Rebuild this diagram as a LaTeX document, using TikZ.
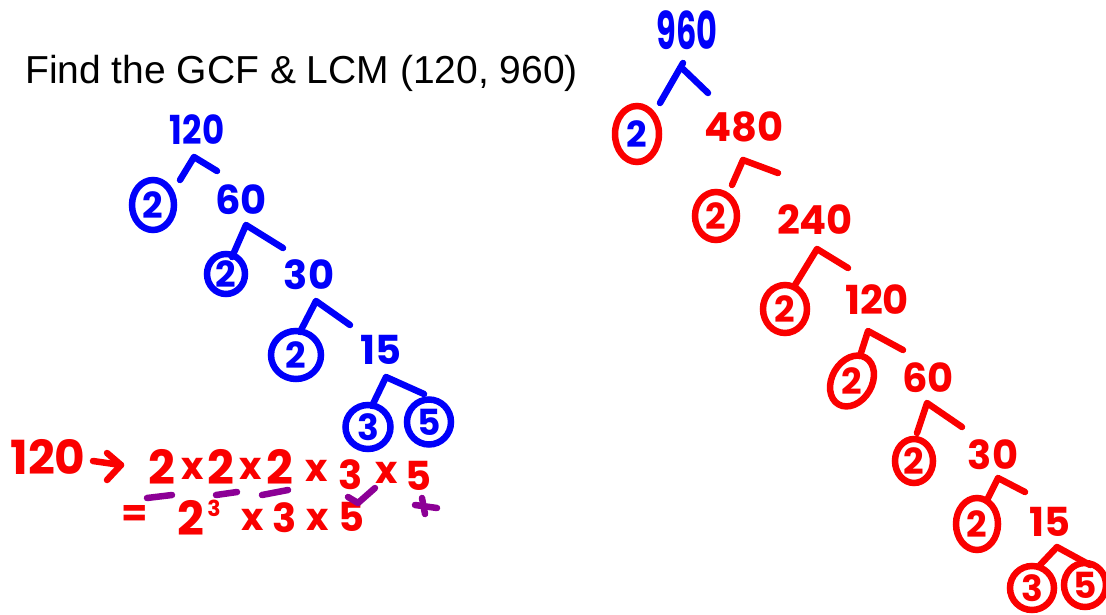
\documentclass[tikz,border=0pt]{standalone}
\usepackage{fontspec}
\setmainfont{Liberation Sans}
\newfontfamily\hand{Poppins}
\usetikzlibrary{shapes.geometric}
\definecolor{pblue}{RGB}{0,0,250}
\definecolor{pred}{RGB}{250,0,0}
\definecolor{ppurple}{RGB}{140,0,150}
\tikzset{
  num/.style={font=\hand\bfseries\fontsize{40}{40}\selectfont, inner sep=0pt},
  big/.style={font=\hand\bfseries\fontsize{47}{47}\selectfont, inner sep=0pt},
  sml/.style={font=\hand\bfseries\fontsize{38}{38}\selectfont, inner sep=0pt},
  ringtext/.style={font=\hand\bfseries\fontsize{36}{36}\selectfont, inner sep=0pt},
  ring/.style={ellipse, draw, line width=6.5pt, inner sep=0pt, font=\hand\bfseries\fontsize{36}{36}\selectfont},
  br/.style={line width=6.5pt, line cap=round, line join=round},
  pstroke/.style={line width=6.5pt, line cap=round, line join=round, ppurple},
}
\begin{document}
\begin{tikzpicture}[x=1pt,y=-1pt]
\useasboundingbox (0,0) rectangle (1106,615);
\fill[white] (0,0) rectangle (1106,615);

% title
\node[anchor=base west, inner sep=0pt, font=\fontsize{39}{39}\selectfont] (title) at (25,84) {Find the GCF \& LCM (120, 960)};

% ---------------- left tree (blue) ----------------
\begin{scope}[pblue]
\node[num, xscale=0.85] (l120) at (197,130) {120};
\coordinate (l1l) at (180,180); \coordinate (l1a) at (194,157); \coordinate (l1r) at (217,171);
\draw[br] (l1l) -- (l1a) -- (l1r);
\node[ring, minimum width=42, minimum height=50] (l2a) at (153,205) {2};
\node[num] (l60) at (241,200) {60};
\coordinate (l2l) at (232,257); \coordinate (l2a') at (246,225); \coordinate (l2r) at (283,248);
\draw[br] (l2l) -- (l2a') -- (l2r);
\node[ring, minimum width=38, minimum height=40] (l2b) at (226,274) {2};
\node[num] (l30) at (309,275) {30};
\coordinate (l3l) at (300,332); \coordinate (l3a) at (316,301); \coordinate (l3r) at (350,325);
\draw[br] (l3l) -- (l3a) -- (l3r);
\node[ring, minimum width=50, minimum height=48] (l2c) at (296,355) {2};
\node[num] (l15) at (381,350) {15};
\coordinate (l4l) at (372,406); \coordinate (l4a) at (386,377); \coordinate (l4r) at (424,394);
\draw[br] (l4l) -- (l4a) -- (l4r);
\node[ring, minimum width=45, minimum height=44] (l3) at (368,427) {3};
\node[ring, minimum width=44, minimum height=45] (l5) at (429,422) {5};
\end{scope}

% ---------------- bottom working (red) ----------------
\begin{scope}[pred]
\node[big] (r120) at (48,457) {120};
\coordinate (arA) at (93,461); \coordinate (arB) at (121,465);
\coordinate (arC) at (107,453); \coordinate (arD) at (107,480);
\draw[br] (arA) -- (arB);
\draw[br] (arC) -- (arB) -- (arD);
\node[big] (e1) at (162,467) {2};
\node[sml] (x1) at (193,469) {x};
\node[big] (e2) at (221,467) {2};
\node[sml] (x2) at (251,469) {x};
\node[big] (e3) at (280,467) {2};
\node[sml] (x3) at (317,471) {x};
\node[num] (e4) at (351,475) {3};
\node[sml] (x4) at (387,473) {x};
\node[num] (e5) at (418,476) {5};

\node[sml] (eq) at (135,516) {=};
\node[big] (f1) at (191,518) {2};
\node[font=\hand\bfseries\fontsize{22}{22}\selectfont, inner sep=0pt] (f1s) at (214,508) {3};
\node[sml] (y1) at (253,520) {x};
\node[num] (f2) at (285,518) {3};
\node[sml] (y2) at (318,520) {x};
\node[num] (f3) at (351,517) {5};
\end{scope}

% purple marks
\coordinate (u1a) at (147,498); \coordinate (u1b) at (172,495);
\coordinate (u2a) at (216,495); \coordinate (u2b) at (237,492);
\coordinate (u3a) at (262,495); \coordinate (u3b) at (288,490);
\draw[pstroke] (u1a) -- (u1b);
\draw[pstroke] (u2a) -- (u2b);
\draw[pstroke] (u3a) -- (u3b);
\coordinate (ck1) at (348,497); \coordinate (ck2) at (358,503); \coordinate (ck3) at (375,488);
\draw[pstroke] (ck1) -- (ck2) -- (ck3);
\coordinate (st1) at (415,505); \coordinate (st2) at (437,508);
\coordinate (st3) at (422,498); \coordinate (st4) at (425,514);
\draw[pstroke] (st1) -- (st2);
\draw[pstroke] (st3) -- (st4);

% ---------------- right tree ----------------
\node[num, pblue, yscale=1.3, xscale=0.8] (r960) at (687,30) {960};
\coordinate (rb0l) at (660,103); \coordinate (rb0a) at (683,63);
\coordinate (rb0m) at (683,69); \coordinate (rb0r) at (708,93);
\draw[br, pblue] (rb0l) -- (rb0a);
\draw[br, pblue] (rb0m) -- (rb0r);
\node[ring, pred, text=pblue, minimum width=44, minimum height=56] (rc1) at (637,134) {2};

\begin{scope}[pred]
\node[num] (r480) at (744,127) {480};
\coordinate (rb1l) at (732,185); \coordinate (rb1a) at (743,160); \coordinate (rb1r) at (778,173);
\draw[br] (rb1l) -- (rb1a) -- (rb1r);
\node[ring, minimum width=42, minimum height=48] (rc2) at (716,216) {2};
\node[num] (r240) at (815,220) {240};
\coordinate (rb2l) at (795,285); \coordinate (rb2a) at (817,249); \coordinate (rb2r) at (848,268);
\draw[br] (rb2l) -- (rb2a) -- (rb2r);
\node[ring, minimum width=44, minimum height=48] (rc3) at (785,309) {2};
\node[num] (r120b) at (877,300) {120};
\coordinate (rb3l) at (860,356); \coordinate (rb3a) at (868,331); \coordinate (rb3r) at (903,350);
\draw[br] (rb3l) -- (rb3a) -- (rb3r);
\node[ring, rotate=-30, minimum width=40, minimum height=54] (rc4) at (852,381) {};
\node[ringtext] (rc4t) at (rc4.center) {2};
\node[num] (r60) at (928,378) {60};
\coordinate (rb4l) at (917,433); \coordinate (rb4a) at (927,403); \coordinate (rb4r) at (962,427);
\draw[br] (rb4l) -- (rb4a) -- (rb4r);
\node[ring, minimum width=38, minimum height=44] (rc5) at (914,461) {2};
\node[num] (r30) at (993,455) {30};
\coordinate (rb5l) at (987,500); \coordinate (rb5a) at (998,478); \coordinate (rb5r) at (1025,492);
\draw[br] (rb5l) -- (rb5a) -- (rb5r);
\node[ring, minimum width=42, minimum height=52] (rc6) at (977,524) {2};
\node[num] (r15) at (1050,522) {15};
\coordinate (rb6l) at (1040,565); \coordinate (rb6a) at (1057,547); \coordinate (rb6r) at (1090,565);
\draw[br] (rb6l) -- (rb6a) -- (rb6r);
\node[ring, minimum width=44, minimum height=44] (rc7) at (1032,588) {3};
\node[ring, minimum width=42, minimum height=44] (rc8) at (1085,585) {5};
\end{scope}
\end{tikzpicture}
\end{document}
